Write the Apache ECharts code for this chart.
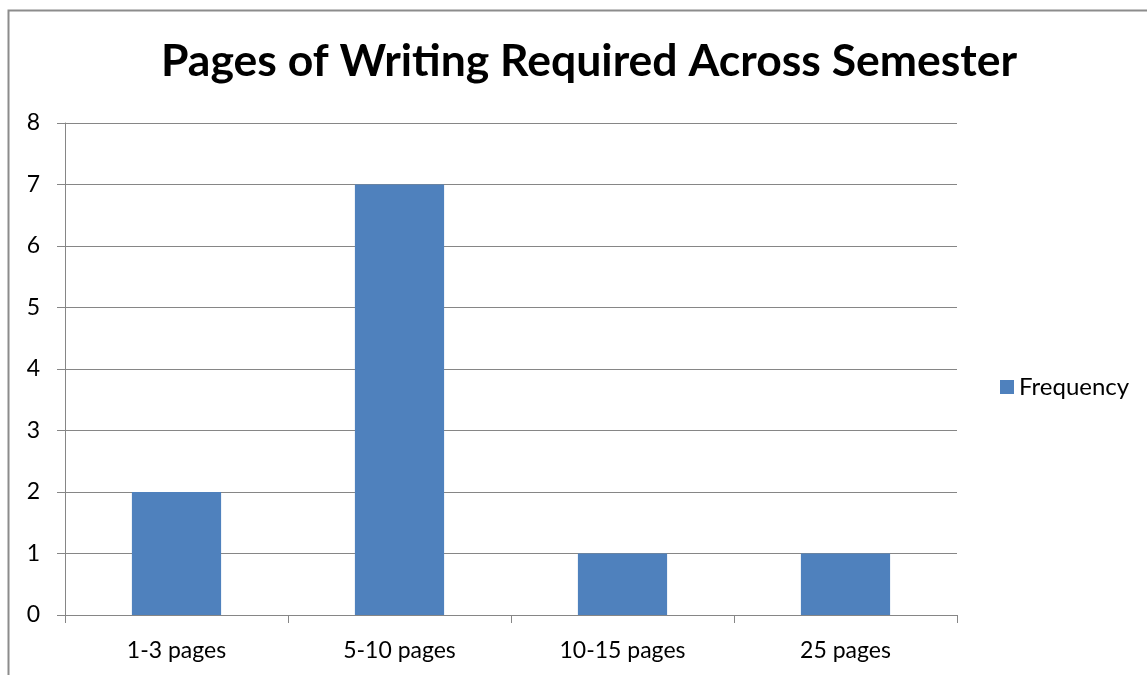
<!DOCTYPE html>
<html>
<head>
<meta charset="utf-8">
<script src="https://cdn.jsdelivr.net/npm/echarts@6/dist/echarts.min.js"></script>
<style>
  html, body { margin: 0; padding: 0; background: #fff; }
  #chart { width: 1147px; height: 675px; }
</style>
</head>
<body>
<div id="chart"></div>
<script>
var categories = ['1-3 pages', '5-10 pages', '10-15 pages', '25 pages']
var frequency = [2, 7, 1, 1]
var yTicks = [0, 8, 1] // min, max, interval

var chart = echarts.init(document.getElementById('chart'))
var font = 'Lato, "Open Sans", sans-serif'

chart.setOption({
  animation: false,
  backgroundColor: '#fff',
  textStyle: { fontFamily: font },
  title: {
    text: 'Pages of Writing Required Across Semester',
    left: 156,
    top: 34,
    textStyle: { fontSize: 44.5, fontWeight: 'bold', color: '#000', fontFamily: font }
  },
  graphic: [{
    type: 'rect',
    shape: { x: 8.5, y: 10.5, width: 1200, height: 700 },
    style: { fill: 'none', stroke: '#8c8c8c', lineWidth: 2 },
    silent: true
  }],
  legend: {
    orient: 'vertical',
    left: 995,
    top: 370,
    itemWidth: 14,
    itemHeight: 14,
    itemGap: 6,
    icon: 'rect',
    textStyle: { fontSize: 24, color: '#000', fontFamily: font },
    data: ['Frequency']
  },
  grid: { left: 65, right: 190, top: 123, bottom: 60 },
  xAxis: {
    type: 'category',
    data: categories,
    axisLine: { lineStyle: { color: '#868686', width: 1 } },
    axisTick: { show: true, length: 8, lineStyle: { color: '#868686' } },
    axisLabel: { fontSize: 23, color: '#000', margin: 24, fontFamily: font }
  },
  yAxis: {
    type: 'value',
    min: yTicks[0],
    max: yTicks[1],
    interval: yTicks[2],
    axisLine: { show: true, lineStyle: { color: '#868686' } },
    axisTick: { show: true, length: 8, lineStyle: { color: '#868686' } },
    splitLine: { lineStyle: { color: '#868686', width: 1 } },
    axisLabel: { fontSize: 23, color: '#000', margin: 25, fontFamily: font }
  },
  series: [{
    name: 'Frequency',
    type: 'bar',
    data: frequency,
    barWidth: '40%',
    itemStyle: { color: '#4f81bd' }
  }]
})
</script>
</body>
</html>
